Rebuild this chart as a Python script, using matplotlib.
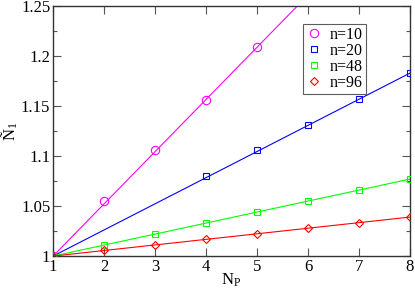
import matplotlib
matplotlib.use("Agg")
import matplotlib.pyplot as plt
import numpy as np
from matplotlib.ticker import MultipleLocator

plt.rcParams['font.family'] = ['Liberation Serif', 'DejaVu Serif']
plt.rcParams['mathtext.fontset'] = 'custom'
plt.rcParams['mathtext.rm'] = 'Liberation Serif'
plt.rcParams['mathtext.it'] = 'Liberation Serif'

labels = ["n=10", "n=20", "n=48", "n=96"]
colors = ["#ff00ff", "#0000ff", "#00ff00", "#ff0000"]
markers = ["o", "s", "s", "D"]

x10 = [1, 2, 3, 4, 5]
y10 = [1.0, 1.055, 1.106, 1.156, 1.209]
x20 = [1, 4, 5, 6, 7, 8]
y20 = [1.0, 1.080, 1.106, 1.131, 1.157, 1.183]
x48 = [1, 2, 3, 4, 5, 6, 7, 8]
y48 = [1.0, 1.011, 1.022, 1.033, 1.044, 1.055, 1.066, 1.077]
x96 = [1, 2, 3, 4, 5, 6, 7, 8]
y96 = [1.0, 1.006, 1.011, 1.017, 1.022, 1.028, 1.033, 1.039]

# fitted line endpoints (x from 1 to 8)
fit_x = [1, 8]
fit10 = [1.0, 1.3655]
fit20 = [1.0, 1.183]
fit48 = [1.0, 1.077]
fit96 = [1.0, 1.039]

fig = plt.figure(figsize=(4.15, 2.9), dpi=100)
ax = fig.add_axes([0.128, 0.117, 0.860, 0.862])

xs = [x10, x20, x48, x96]
ys = [y10, y20, y48, y96]
fits = [fit10, fit20, fit48, fit96]
msizes = [6, 5, 5, 4.3]
for xx, yy, ff, c, m, lab, ms in zip(xs, ys, fits, colors, markers, labels, msizes):
    ax.plot(fit_x, ff, color=c, lw=0.8, zorder=2)
    ax.plot(xx, yy, ls='none', marker=m, mfc='none', mec=c, mew=0.8,
            ms=ms, label=lab, zorder=3)

ax.set_xlim(1, 8)
ax.set_ylim(1, 1.25)
ax.xaxis.set_major_locator(MultipleLocator(1))
ax.set_yticks([1, 1.05, 1.1, 1.15, 1.2, 1.25])
ax.set_yticklabels(['1', '1.05', '1.1', '1.15', '1.2', '1.25'])
ax.yaxis.set_minor_locator(MultipleLocator(0.025))
ax.tick_params(which='both', direction='in', top=True, right=True,
               labelsize=12, color='#555555', width=0.8)
ax.tick_params(which='major', length=6, pad=2)
ax.tick_params(which='minor', length=3)
for s in ax.spines.values():
    s.set_color('#333333')
    s.set_linewidth(1.0)

ax.set_xlabel(r'N$_\mathrm{P}$', fontsize=12, labelpad=-2)
ax.set_ylabel('Ñ$_1$', fontsize=12, labelpad=1)

leg = ax.legend(loc='upper left', bbox_to_anchor=(0.70, 0.93), fontsize=11.5,
                frameon=True, fancybox=False, edgecolor='#333333',
                borderpad=0.2, handlelength=1.0, handletextpad=0.5,
                labelspacing=0.0, borderaxespad=0)
leg.get_frame().set_linewidth(0.8)

fig.savefig('out.png', dpi=100)
